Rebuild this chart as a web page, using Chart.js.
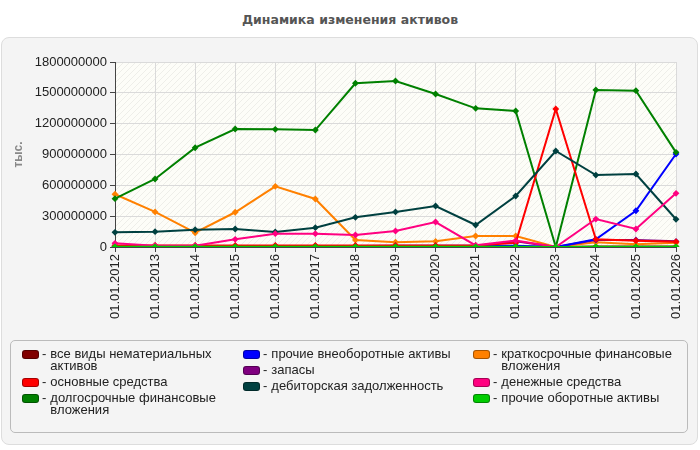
<!DOCTYPE html>
<html>
<head>
<meta charset="utf-8">
<script src="https://cdn.jsdelivr.net/npm/chart.js@4/dist/chart.umd.min.js"></script>
<style>
  body { margin: 0; background: #fff; font-family: "Liberation Sans", Arial, sans-serif; }
  #wrap { position: relative; width: 700px; height: 450px; }
  #title { position: absolute; left: 0; top: 12px; width: 700px; text-align: center;
    font: bold 12.5px "DejaVu Sans", sans-serif; color: #555; line-height: 16px; }
  #panel { position: absolute; left: 1px; top: 37px; width: 695px; height: 406px;
    background: #f4f4f4; border: 1px solid #ddd; border-radius: 8px; }
  #chart { position: absolute; left: 0; top: 0; }
  #legend { position: absolute; left: 10px; top: 340px; width: 676px; height: 91px;
    border: 1px solid #bbb; border-radius: 5px; font-size: 13px; color: #222; }
  .col { position: absolute; top: 7px; display: flex; flex-direction: column; gap: 4px; }
  .item { display: flex; align-items: flex-start; line-height: 12px; }
  .sw { width: 15px; height: 7px; border-radius: 3px; margin-top: 2px; margin-right: 3px; flex: none;
    border: 1px solid rgba(0,0,0,0.35); }
  .dash { margin-right: 4px; }
</style>
</head>
<body>
<div id="wrap">
  <div id="title">Динамика изменения активов</div>
  <div id="panel"></div>
  <canvas id="chart" width="700" height="450"></canvas>
  <div id="legend"></div>
</div>
<script>
/*--data--*/
var dates = ["01.01.2012", "01.01.2013", "01.01.2014", "01.01.2015", "01.01.2016",
  "01.01.2017", "01.01.2018", "01.01.2019", "01.01.2020", "01.01.2021",
  "01.01.2022", "01.01.2023", "01.01.2024", "01.01.2025", "01.01.2026"];

var intangible = [4000000, 4000000, 4000000, 4000000, 4000000, 4000000, 4000000, 4000000,
  4000000, 4000000, 4000000, 0, 4000000, 4000000, 4000000];
var fixedAssets = [15000000, 15000000, 15000000, 15000000, 15000000, 15000000, 15000000, 15000000,
  15000000, 15000000, 40000000, 1343000000, 75000000, 60000000, 50000000];
var longInvest = [470000000, 662000000, 966000000, 1148000000, 1145000000, 1138000000, 1593000000, 1615000000,
  1489000000, 1349000000, 1323000000, 0, 1528000000, 1521000000, 921000000];
var otherNonCurrent = [8000000, 8000000, 8000000, 8000000, 8000000, 8000000, 10000000, 12000000,
  12000000, 12000000, 12000000, 0, 75000000, 353000000, 905000000];
var stocks = [10000000, 10000000, 10000000, 10000000, 10000000, 10000000, 10000000, 10000000,
  10000000, 10000000, 55000000, 0, 68000000, 68000000, 55000000];
var receivables = [143000000, 149000000, 169000000, 175000000, 146000000, 188000000, 289000000, 341000000,
  399000000, 214000000, 496000000, 934000000, 700000000, 710000000, 270000000];
var shortInvest = [513000000, 341000000, 139000000, 338000000, 590000000, 467000000, 68000000, 46000000,
  55000000, 107000000, 107000000, 0, 46000000, 26000000, 42000000];
var cash = [36000000, 13000000, 13000000, 75000000, 130000000, 130000000, 117000000, 156000000,
  243000000, 16000000, 62000000, 0, 272000000, 175000000, 522000000];
var otherCurrent = [2000000, 2000000, 2000000, 2000000, 2000000, 2000000, 2000000, 2000000,
  2000000, 2000000, 2000000, 0, 2000000, 2000000, 2000000];

var yTicksMax = 1800000000;
var yTicksStep = 300000000;

/*--helpers--*/
function ds(label, values, color, order) {
  return {
    label: label,
    data: values,
    borderColor: color,
    backgroundColor: color,
    borderWidth: 2,
    pointStyle: 'rectRot',
    pointRadius: 2,
    pointHoverRadius: 3,
    tension: 0,
    fill: false,
    order: order
  };
}

var hatch = (function () {
  var c = document.createElement('canvas');
  c.width = 6; c.height = 6;
  var g = c.getContext('2d');
  g.fillStyle = '#fdfdf8';
  g.fillRect(0, 0, 6, 6);
  g.strokeStyle = 'rgba(0,0,0,0.06)';
  g.lineWidth = 1;
  g.beginPath();
  g.moveTo(0, 6); g.lineTo(6, 0);
  g.moveTo(-3, 3); g.lineTo(3, -3);
  g.moveTo(3, 9); g.lineTo(9, 3);
  g.stroke();
  return g.createPattern(c, 'repeat');
})();

var plotBg = {
  id: 'plotBg',
  beforeDraw: function (chart) {
    var a = chart.chartArea, ctx = chart.ctx;
    ctx.save();
    ctx.fillStyle = hatch;
    ctx.fillRect(a.left, a.top, a.right - a.left, a.bottom - a.top);
    ctx.strokeStyle = '#dcdcdc';
    ctx.lineWidth = 1;
    ctx.strokeRect(a.left + 0.5, a.top + 0.5, a.right - a.left, a.bottom - a.top);
    ctx.restore();
  }
};

/*--chart--*/
var chart = new Chart(document.getElementById('chart'), {
  type: 'line',
  data: {
    labels: dates,
    datasets: [
      ds('все виды нематериальных активов', intangible, '#800000', 8),
      ds('основные средства', fixedAssets, '#ff0000', 3),
      ds('долгосрочные финансовые вложения', longInvest, '#008000', 4),
      ds('прочие внеоборотные активы', otherNonCurrent, '#0000ff', 5),
      ds('запасы', stocks, '#800080', 6),
      ds('дебиторская задолженность', receivables, '#004040', 2),
      ds('краткосрочные финансовые вложения', shortInvest, '#ff8000', 7),
      ds('денежные средства', cash, '#ff0080', 1),
      ds('прочие оборотные активы', otherCurrent, '#00cc00', 0)
    ]
  },
  options: {
    responsive: false,
    animation: false,
    layout: { padding: { left: 0, top: 62, right: 24, bottom: 118 } },
    plugins: {
      legend: { display: false },
      tooltip: { enabled: false },
      title: { display: false }
    },
    scales: {
      x: {
        offset: false,
        afterFit: function (s) { s.height = 85; },
        grid: { color: '#dadada', borderDash: [4, 3], tickLength: 5, tickColor: '#444', tickBorderDash: [] },
        border: { color: '#444', width: 1 },
        ticks: {
          color: '#222', minRotation: 90, maxRotation: 90, padding: 2, autoSkip: false,
          font: { family: 'Liberation Sans', size: 13 }
        }
      },
      y: {
        min: 0,
        max: yTicksMax,
        afterFit: function (s) { s.width = 115; },
        grid: { color: '#dadada', borderDash: [4, 3], tickLength: 5, tickColor: '#444', tickBorderDash: [] },
        border: { color: '#444', width: 1 },
        title: {
          display: true, text: 'тыс.', color: '#888',
          font: { family: 'Liberation Sans', size: 12, weight: 'bold' },
          padding: { top: 11, bottom: 0 }
        },
        ticks: {
          color: '#222', stepSize: yTicksStep, padding: 3,
          font: { family: 'Liberation Sans', size: 13 },
          callback: function (v) { return String(v); }
        }
      }
    }
  },
  plugins: [plotBg]
});

/*--html legend--*/
var cols = [[0, 1, 2], [3, 4, 5], [6, 7, 8]];
var colLeft = [11, 232, 462];
var txtWidth = [178, 200, 185];
var legendEl = document.getElementById('legend');
cols.forEach(function (idx, ci) {
  var col = document.createElement('div');
  col.className = 'col';
  col.style.left = colLeft[ci] + 'px';
  idx.forEach(function (i) {
    var d = chart.data.datasets[i];
    var item = document.createElement('div');
    item.className = 'item';
    item.innerHTML = '<span class="sw" style="background:' + d.borderColor + '"></span>' +
      '<span class="dash">-</span><span style="width:' + txtWidth[ci] + 'px">' + d.label + '</span>';
    col.appendChild(item);
  });
  legendEl.appendChild(col);
});
</script>
</body>
</html>
